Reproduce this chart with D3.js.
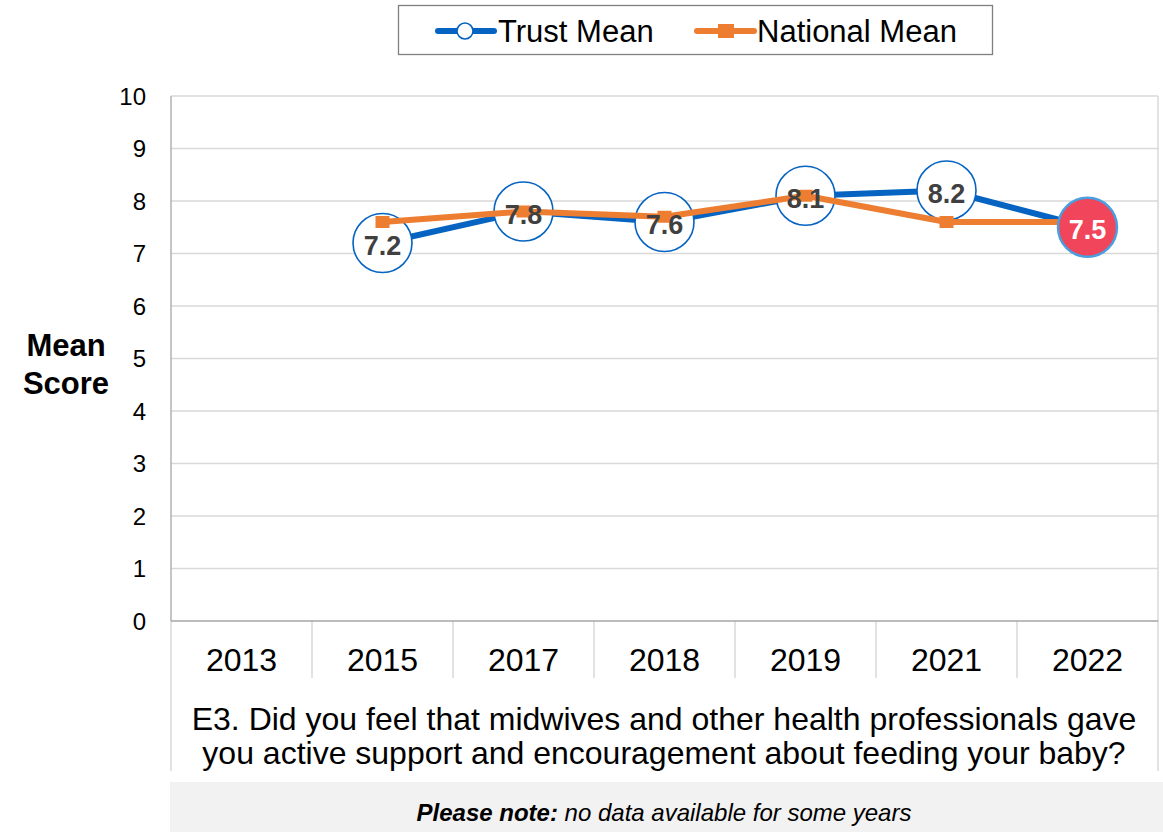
<!DOCTYPE html>
<html>
<head>
<meta charset="utf-8">
<script src="https://cdn.jsdelivr.net/npm/d3@7"></script>
<style>
  html, body { margin: 0; padding: 0; background: #fff; }
  svg { display: block; font-family: Arial, "Liberation Sans", sans-serif; }
</style>
</head>
<body>
<svg id="chart" width="1163" height="832"></svg>
<script>
const years = ["2013", "2015", "2017", "2018", "2019", "2021", "2022"];
const trustMean = [null, 7.2, 7.8, 7.6, 8.1, 8.2, 7.5];
const nationalMean = [null, 7.6, 7.8, 7.7, 8.1, 7.6, 7.6];
const yTicks = [0, 1, 2, 3, 4, 5, 6, 7, 8, 9, 10];
const highlightYear = "2022";
const questionLines = [
  "E3. Did you feel that midwives and other health professionals gave",
  "you active support and encouragement about feeding your baby?"
];
const seriesNames = ["Trust Mean", "National Mean"];

(function () {
const svg = d3.select("#chart");
const pLeft = 171, pRight = 1158, pTop = 96, pBottom = 621;
const blue = "#0563C1", orange = "#ED7D31";

const x = d3.scaleBand().domain(years).range([pLeft, pRight]).padding(0);
const y = d3.scaleLinear().domain([0, 10]).range([pBottom, pTop]);

// gridlines
svg.append("g").selectAll("line").data(yTicks.filter(t => t > 0)).join("line")
  .attr("x1", pLeft).attr("x2", pRight)
  .attr("y1", d => y(d)).attr("y2", d => y(d))
  .attr("stroke", "#d9d9d9").attr("stroke-width", 1.3);

// right border
svg.append("line").attr("x1", pRight).attr("x2", pRight).attr("y1", pTop).attr("y2", 771)
  .attr("stroke", "#d9d9d9").attr("stroke-width", 1.5);
// left axis
svg.append("line").attr("x1", pLeft).attr("x2", pLeft).attr("y1", pTop).attr("y2", pBottom)
  .attr("stroke", "#a6a6a6").attr("stroke-width", 1.3);
svg.append("line").attr("x1", pLeft).attr("x2", pLeft).attr("y1", pBottom).attr("y2", 771)
  .attr("stroke", "#d9d9d9").attr("stroke-width", 1.5);

// category separators
svg.append("g").selectAll("line").data(years.slice(1)).join("line")
  .attr("x1", d => x(d)).attr("x2", d => x(d))
  .attr("y1", pBottom).attr("y2", 678)
  .attr("stroke", "#d9d9d9").attr("stroke-width", 1.5);

// x axis line
svg.append("line").attr("x1", pLeft).attr("x2", pRight).attr("y1", pBottom).attr("y2", pBottom)
  .attr("stroke", "#a6a6a6").attr("stroke-width", 1.3);

// y tick labels
svg.append("g").selectAll("text").data(yTicks).join("text")
  .attr("x", 146).attr("y", d => y(d) + 8.5)
  .attr("text-anchor", "end").attr("font-size", 24).attr("fill", "#000")
  .text(d => d);

// x labels
svg.append("g").selectAll("text").data(years).join("text")
  .attr("x", d => x(d) + x.bandwidth() / 2).attr("y", 671)
  .attr("text-anchor", "middle").attr("font-size", 32).attr("fill", "#000")
  .text(d => d);

// question
svg.append("g").selectAll("text").data(questionLines).join("text")
  .attr("x", 664).attr("y", (d, i) => 730 + i * 34)
  .attr("text-anchor", "middle").attr("font-size", 32).attr("fill", "#000")
  .text(d => d);

// y axis title
const yt = svg.append("text").attr("text-anchor", "middle").attr("font-size", 31)
  .attr("font-weight", "bold").attr("fill", "#000");
yt.append("tspan").attr("x", 66).attr("y", 356).text("Mean");
yt.append("tspan").attr("x", 66).attr("y", 394).text("Score");

// note box
svg.append("rect").attr("x", 170).attr("y", 782).attr("width", 993).attr("height", 50)
  .attr("fill", "#f2f2f2");
const nt = svg.append("text").attr("x", 664).attr("y", 821).attr("text-anchor", "middle")
  .attr("font-size", 24).attr("font-style", "italic").attr("fill", "#000");
nt.append("tspan").attr("font-weight", "bold").text("Please note:");
nt.append("tspan").text(" no data available for some years");

const cx = d => x(d) + x.bandwidth() / 2;
const trustData = years.map((yr, i) => ({ yr, v: trustMean[i] })).filter(d => d.v != null);
const natData = years.map((yr, i) => ({ yr, v: nationalMean[i] })).filter(d => d.v != null);
const line = d3.line().x(d => cx(d.yr)).y(d => y(d.v));

// trust line
svg.append("path").datum(trustData).attr("d", line)
  .attr("fill", "none").attr("stroke", blue).attr("stroke-width", 6).attr("stroke-linejoin", "round");

// trust circles (non-highlight)
svg.append("g").selectAll("circle").data(trustData.filter(d => d.yr !== highlightYear)).join("circle")
  .attr("cx", d => cx(d.yr)).attr("cy", d => y(d.v)).attr("r", 29.5)
  .attr("fill", "#fff").attr("stroke", blue).attr("stroke-width", 1.6);

// national line
svg.append("path").datum(natData).attr("d", line)
  .attr("fill", "none").attr("stroke", orange).attr("stroke-width", 6).attr("stroke-linejoin", "round");
svg.append("g").selectAll("rect").data(natData).join("rect")
  .attr("x", d => cx(d.yr) - 7).attr("y", d => y(d.v) - 6)
  .attr("width", 14).attr("height", 12).attr("fill", orange);

// highlight circle
svg.append("g").selectAll("circle").data(trustData.filter(d => d.yr === highlightYear)).join("circle")
  .attr("cx", d => cx(d.yr)).attr("cy", d => y(d.v)).attr("r", 29.5)
  .attr("fill", "#F0455A").attr("stroke", "#4A9FE0").attr("stroke-width", 2.5);

// labels
svg.append("g").selectAll("text").data(trustData).join("text")
  .attr("x", d => cx(d.yr)).attr("y", d => y(d.v) + 12)
  .attr("text-anchor", "middle").attr("font-size", 27).attr("font-weight", "bold")
  .attr("fill", d => d.yr === highlightYear ? "#fff" : "#404040")
  .text(d => d3.format(".1f")(d.v));

// legend
svg.append("rect").attr("x", 398.5).attr("y", 5.5).attr("width", 594).attr("height", 49)
  .attr("fill", "#fff").attr("stroke", "#7f7f7f").attr("stroke-width", 1.3);
const lg = svg.append("g");
lg.append("line").attr("x1", 438).attr("x2", 494).attr("y1", 31).attr("y2", 31)
  .attr("stroke", blue).attr("stroke-width", 6).attr("stroke-linecap", "round");
lg.append("circle").attr("cx", 465).attr("cy", 31).attr("r", 8)
  .attr("fill", "#fff").attr("stroke", blue).attr("stroke-width", 1.6);
lg.append("text").attr("x", 498).attr("y", 42).attr("font-size", 31).attr("fill", "#000").text(seriesNames[0]);
lg.append("line").attr("x1", 697).attr("x2", 754).attr("y1", 31).attr("y2", 31)
  .attr("stroke", orange).attr("stroke-width", 6).attr("stroke-linecap", "round");
lg.append("rect").attr("x", 718).attr("y", 24).attr("width", 16).attr("height", 14).attr("fill", orange);
lg.append("text").attr("x", 757).attr("y", 42).attr("font-size", 31).attr("fill", "#000").text(seriesNames[1]);
})();
</script>
</body>
</html>
